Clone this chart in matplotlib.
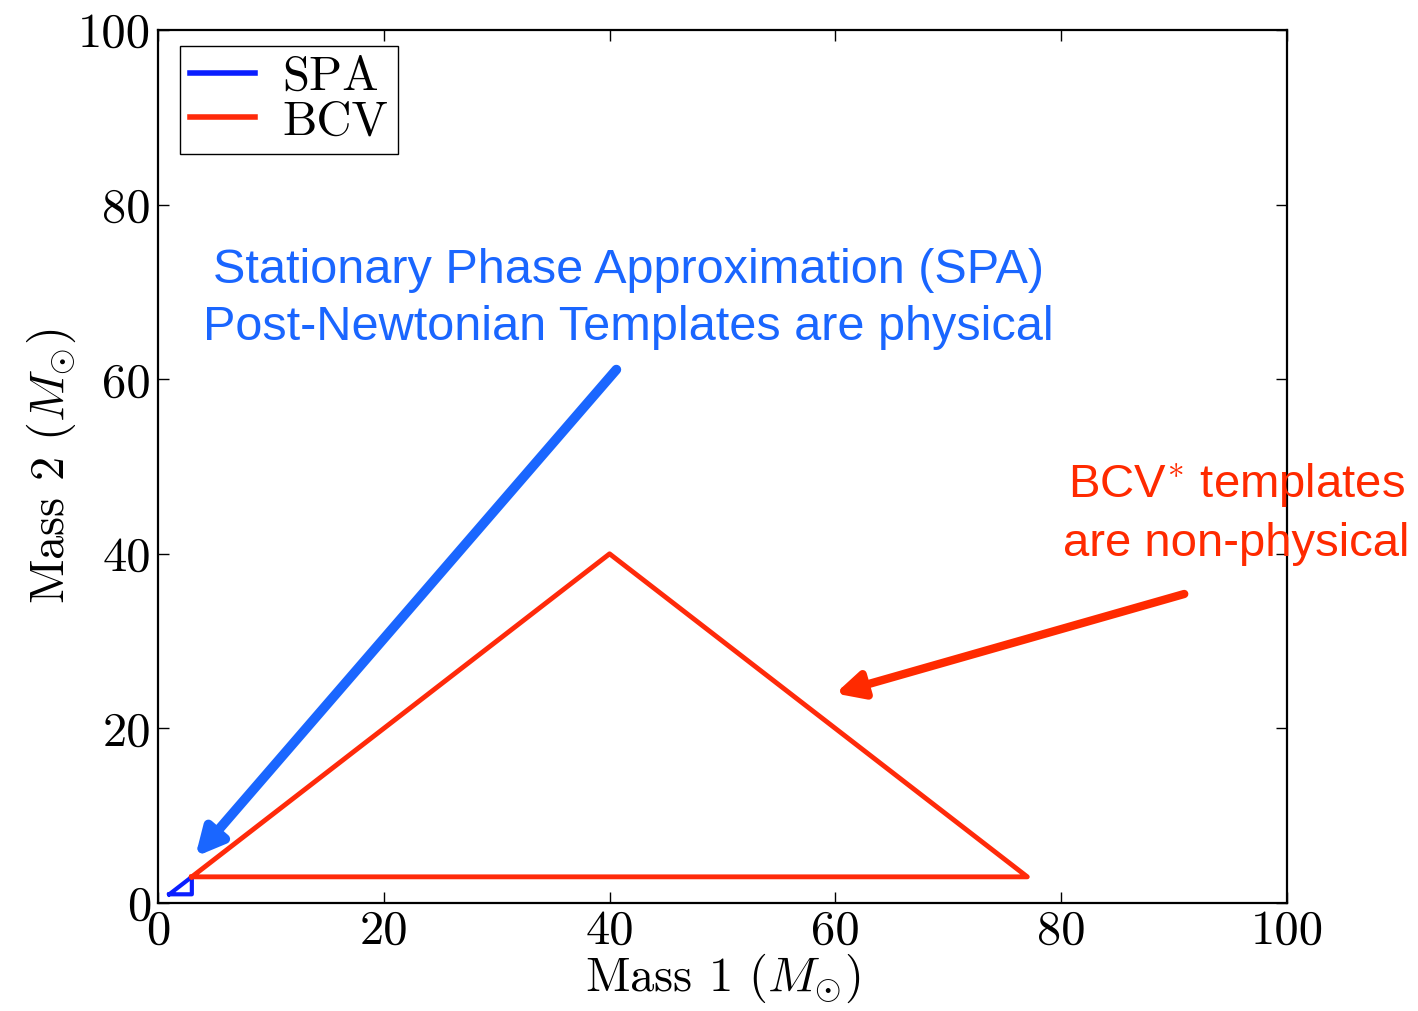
import matplotlib
matplotlib.use('Agg')
import matplotlib.pyplot as plt

# template bank boundaries (component masses in solar masses)
spa_m1 = [1, 3, 3, 1]
spa_m2 = [1, 1, 3, 1]
bcv_m1 = [3, 40, 77, 3]
bcv_m2 = [3, 40, 3, 3]

ticks = [0, 20, 40, 60, 80, 100]

plt.rcParams['font.family'] = 'serif'
plt.rcParams['font.serif'] = ['cmr10']
plt.rcParams['mathtext.fontset'] = 'cm'
plt.rcParams['axes.formatter.use_mathtext'] = True
plt.rcParams['axes.unicode_minus'] = False

fig = plt.figure(figsize=(14.18, 10.11), dpi=100)
ax = fig.add_axes([0.1114, 0.1068, 0.7962, 0.8635])

ax.plot(spa_m1, spa_m2, color='#0a1eff', lw=3, label='SPA')
ax.plot(bcv_m1, bcv_m2, color='#ff2a0a', lw=3.5, label='BCV')

ax.set_xlim(0, 100)
ax.set_ylim(0, 100)
ax.set_xticks(ticks)
ax.set_yticks(ticks)
ax.set_xticklabels([str(t) for t in ticks])
ax.set_yticklabels([str(t) for t in ticks])
ax.tick_params(direction='in', top=True, right=True, length=8, width=1,
               labelsize=35, pad=5)
for s in ax.spines.values():
    s.set_linewidth(1.6)

ax.set_xlabel(r'Mass 1 $(M_{\odot})$', fontsize=35, labelpad=-2)
ax.set_ylabel(r'Mass 2 $(M_{\odot})$', fontsize=35, labelpad=0)

leg = ax.legend(loc='upper left', bbox_to_anchor=(0.0195, 0.9817),
                fontsize=35, fancybox=False, framealpha=1,
                edgecolor='black', handlelength=1.35, borderaxespad=0,
                labelspacing=0.0, borderpad=0.2, handletextpad=0.55)
leg.get_frame().set_linewidth(1.0)
for line in leg.get_lines():
    line.set_linewidth(4)

sans = 'Liberation Sans'
blue = '#1a66ff'
red = '#ff2a00'

ax.text(41.7, 69.2, 'Stationary Phase Approximation (SPA)\nPost-Newtonian Templates are physical',
        ha='center', va='center', fontsize=35, color=blue, family=sans,
        linespacing=1.35)
ax.text(95.5, 44.6, 'BCV$^{*}$ templates\nare non-physical',
        ha='center', va='center', fontsize=34, color=red, family=sans,
        linespacing=1.4, clip_on=False)

ax.annotate('', xy=(3.3, 5.3), xytext=(40.6, 61.1),
            arrowprops=dict(arrowstyle='-|>,head_length=1.6,head_width=0.8',
                            color=blue, lw=7, shrinkA=0, shrinkB=0))
ax.annotate('', xy=(60.0, 24.0), xytext=(90.9, 35.4),
            annotation_clip=False,
            arrowprops=dict(arrowstyle='-|>,head_length=1.6,head_width=0.8',
                            color=red, lw=6, shrinkA=0, shrinkB=0))

fig.savefig('out.png', dpi=100)
